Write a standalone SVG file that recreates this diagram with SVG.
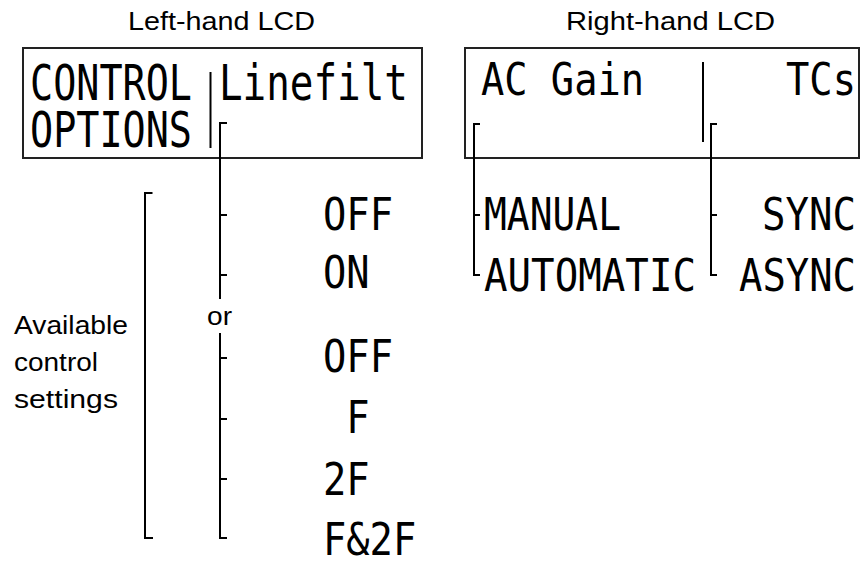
<svg xmlns="http://www.w3.org/2000/svg" width="863" height="563" viewBox="0 0 863 563">
<style>
.lbl{font-family:"Liberation Sans",Arial,sans-serif;font-size:25px;fill:#000}
.lcd{font-family:"DejaVu Sans Mono",monospace;fill:#000}
.hdL{font-size:49px}
.hdR{font-size:45px}
.opt{font-size:45px}
.box{fill:none;stroke:#222;stroke-width:2}
.ln{fill:none;stroke:#000;stroke-width:2}
</style>
<rect width="863" height="563" fill="#fff"/>
<g id="title-left"><text class="lbl" x="128" y="30" textLength="187" lengthAdjust="spacingAndGlyphs">Left-hand LCD</text></g>
<g id="title-right"><text class="lbl" x="566" y="30" textLength="209" lengthAdjust="spacingAndGlyphs">Right-hand LCD</text></g>
<g id="lcd-left">
<rect class="box" x="23" y="48" width="399" height="110"/>
<line class="ln" x1="210.5" y1="72" x2="210.5" y2="148"/>
<text class="lcd hdL" x="30" y="100" textLength="162" lengthAdjust="spacingAndGlyphs">CONTROL</text>
<text class="lcd hdL" x="30" y="146.5" textLength="162" lengthAdjust="spacingAndGlyphs">OPTIONS</text>
<text class="lcd hdL" x="219" y="100" textLength="189" lengthAdjust="spacingAndGlyphs">Linefilt</text>
</g>
<g id="lcd-right">
<rect class="box" x="465" y="48" width="394" height="110"/>
<line class="ln" x1="703" y1="62" x2="703" y2="142"/>
<text class="lcd hdR" x="481" y="95" textLength="163" lengthAdjust="spacingAndGlyphs">AC Gain</text>
<text class="lcd hdR" x="786" y="95" textLength="70" lengthAdjust="spacingAndGlyphs">TCs</text>
</g>
<g id="available-label">
<text class="lbl" x="14" y="334" textLength="114" lengthAdjust="spacingAndGlyphs">Available</text>
<text class="lbl" x="14" y="371" textLength="84" lengthAdjust="spacingAndGlyphs">control</text>
<text class="lbl" x="14" y="408" textLength="104" lengthAdjust="spacingAndGlyphs">settings</text>
</g>
<g id="or-label"><text class="lbl" x="207" y="325" textLength="25" lengthAdjust="spacingAndGlyphs">or</text></g>
<g id="linefilt-options">
<text class="lcd opt" x="323" y="230" textLength="70" lengthAdjust="spacingAndGlyphs">OFF</text>
<text class="lcd opt" x="323" y="288" textLength="46.6" lengthAdjust="spacingAndGlyphs">ON</text>
<text class="lcd opt" x="323" y="372" textLength="70" lengthAdjust="spacingAndGlyphs">OFF</text>
<text class="lcd opt" x="346.3" y="433" textLength="23.3" lengthAdjust="spacingAndGlyphs">F</text>
<text class="lcd opt" x="323" y="495" textLength="46.6" lengthAdjust="spacingAndGlyphs">2F</text>
<text class="lcd opt" x="323" y="555" textLength="93.2" lengthAdjust="spacingAndGlyphs">F&amp;2F</text>
</g>
<g id="acgain-options">
<text class="lcd opt" x="484" y="230" textLength="137" lengthAdjust="spacingAndGlyphs">MANUAL</text>
<text class="lcd opt" x="484" y="291" textLength="212" lengthAdjust="spacingAndGlyphs">AUTOMATIC</text>
</g>
<g id="tcs-options">
<text class="lcd opt" x="762" y="230" textLength="94" lengthAdjust="spacingAndGlyphs">SYNC</text>
<text class="lcd opt" x="739" y="291" textLength="117" lengthAdjust="spacingAndGlyphs">ASYNC</text>
</g>
<g id="connectors">
<path class="ln" d="M152.5,193 H145 V538 H153"/>
<path class="ln" d="M227,123 H220 V299 M220,333 V538 H227 M220,215 H227 M220,275 H227 M220,358 H227 M220,419 H227 M220,479 H227"/>
<path class="ln" d="M480,124 H474 V275 H480 M474,215 H480"/>
<path class="ln" d="M717,124 H711 V275 H717 M711,215 H717"/>
</g>
</svg>
